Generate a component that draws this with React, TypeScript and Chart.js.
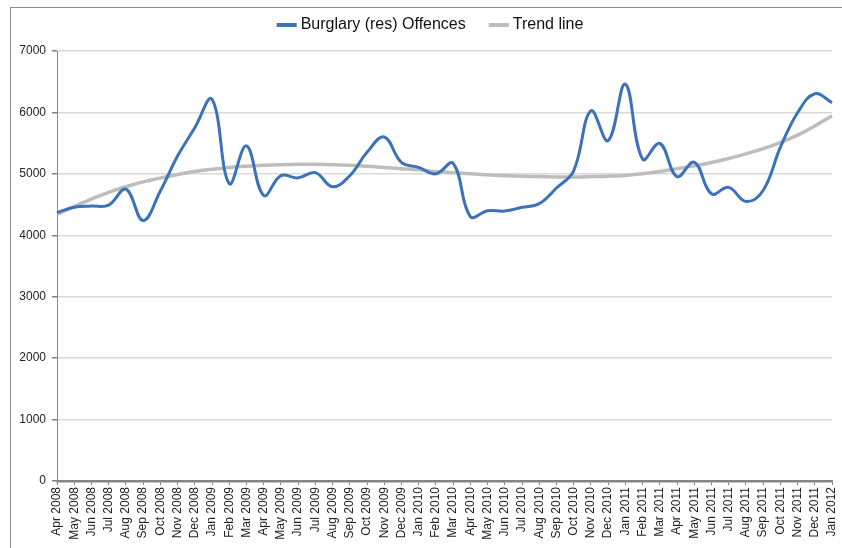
import React, { useEffect, useRef } from "react";
import { Chart, registerables } from "chart.js";

Chart.register(...registerables);

const months: string[] = [
  "Apr 2008", "May 2008", "Jun 2008", "Jul 2008", "Aug 2008", "Sep 2008", "Oct 2008", "Nov 2008", "Dec 2008",
  "Jan 2009", "Feb 2009", "Mar 2009", "Apr 2009", "May 2009", "Jun 2009", "Jul 2009", "Aug 2009", "Sep 2009",
  "Oct 2009", "Nov 2009", "Dec 2009", "Jan 2010", "Feb 2010", "Mar 2010", "Apr 2010", "May 2010", "Jun 2010",
  "Jul 2010", "Aug 2010", "Sep 2010", "Oct 2010", "Nov 2010", "Dec 2010", "Jan 2011", "Feb 2011", "Mar 2011",
  "Apr 2011", "May 2011", "Jun 2011", "Jul 2011", "Aug 2011", "Sep 2011", "Oct 2011", "Nov 2011", "Dec 2011",
  "Jan 2012",
];

// Monthly residential burglary offences
const offences: number[] = [
  4370, 4455, 4475, 4490, 4750, 4240, 4720, 5290, 5750, 6215,
  4840, 5455, 4650, 4970, 4935, 5020, 4790, 4970, 5350, 5600,
  5185, 5105, 5000, 5170, 4305, 4400, 4395, 4455, 4515, 4770,
  5050, 6025, 5540, 6460, 5240, 5495, 4955, 5190, 4675, 4780,
  4550, 4730, 5430, 5995, 6305, 6160,
];

// Fitted trend
const trend: number[] = [
  4340, 4470, 4590, 4700, 4790, 4870, 4930, 4990, 5040, 5075,
  5105, 5125, 5140, 5150, 5155, 5155, 5150, 5140, 5125, 5105,
  5085, 5065, 5040, 5020, 5000, 4985, 4970, 4960, 4955, 4950,
  4950, 4955, 4962, 4975, 5000, 5040, 5085, 5130, 5185, 5250,
  5325, 5410, 5510, 5630, 5780, 5945,
];

const yTicks: number[] = [0, 1000, 2000, 3000, 4000, 5000, 6000, 7000];

const FONT = "Arial, 'Liberation Sans', sans-serif";

// Legend drawn across the top of the canvas: a short thick line per series, then its name
const topLegend = {
  id: "topLegend",
  afterDraw(chart: any) {
    const ctx = chart.ctx as CanvasRenderingContext2D;
    const sets = chart.data.datasets;
    const sample = 20;
    const gapText = 4;
    const gapItem = 23;
    const cy = 25;
    ctx.save();
    ctx.font = `16px ${FONT}`;
    const widths = sets.map((d: any) => ctx.measureText(d.label).width);
    let total = 0;
    widths.forEach((w: number, i: number) => {
      total += sample + gapText + w + (i < widths.length - 1 ? gapItem : 0);
    });
    let x = 430 - total / 2;
    sets.forEach((d: any, i: number) => {
      ctx.strokeStyle = d.borderColor;
      ctx.lineWidth = 4;
      ctx.lineCap = "butt";
      ctx.beginPath();
      ctx.moveTo(x, cy);
      ctx.lineTo(x + sample, cy);
      ctx.stroke();
      x += sample + gapText;
      ctx.fillStyle = "#111";
      ctx.textBaseline = "middle";
      ctx.textAlign = "left";
      ctx.fillText(d.label, x, cy);
      x += widths[i] + gapItem;
    });
    ctx.restore();
  },
};

export default function App() {
  const canvasRef = useRef<HTMLCanvasElement | null>(null);

  useEffect(() => {
    const canvas = canvasRef.current;
    if (!canvas) return;
    const chart = new Chart(canvas, {
      type: "line",
      data: {
        labels: months,
        datasets: [
          {
            label: "Burglary (res) Offences",
            data: offences,
            borderColor: "#3c72b7",
            backgroundColor: "#3c72b7",
            borderWidth: 3,
            pointRadius: 0,
            tension: 0.4,
            fill: false,
          },
          {
            label: "Trend line",
            data: trend,
            borderColor: "#bdbdbd",
            backgroundColor: "#bdbdbd",
            borderWidth: 3.5,
            pointRadius: 0,
            tension: 0.4,
            fill: false,
          },
        ],
      },
      plugins: [topLegend],
      options: {
        animation: false,
        responsive: false,
        devicePixelRatio: 1,
        layout: { padding: { top: 51, left: 0, right: 10, bottom: 0 } },
        plugins: {
          tooltip: { enabled: false },
          legend: { display: false },
        },
        scales: {
          x: {
            offset: false,
            grid: {
              display: true,
              drawOnChartArea: false,
              drawTicks: true,
              tickLength: 4,
              tickColor: "#7f7f7f",
            },
            border: { display: true, color: "#858585", width: 2.5 },
            ticks: {
              autoSkip: false,
              minRotation: 90,
              maxRotation: 90,
              padding: 2,
              color: "#222",
              font: { family: FONT, size: 12 },
            },
            afterFit: (scale: any) => {
              scale.height = 67;
              scale.paddingRight = 0;
            },
          },
          y: {
            min: 0,
            max: 7000,
            afterBuildTicks: (scale: any) => {
              scale.ticks = yTicks.map((v) => ({ value: v }));
            },
            grid: {
              color: "#d9d9d9",
              lineWidth: 1.5,
              drawTicks: true,
              tickLength: 5,
              tickColor: "#7f7f7f",
            },
            border: { display: true, color: "#8a8a8a", width: 1 },
            ticks: {
              padding: 6,
              color: "#222",
              font: { family: FONT, size: 12 },
              callback: (v: any) => String(v),
            },
            afterFit: (scale: any) => {
              scale.width = 57;
            },
          },
        },
      },
    });
    return () => chart.destroy();
  }, []);

  return (
    <div style={{ position: "fixed", left: 0, top: 0, width: 842, height: 548, background: "#fff", overflow: "hidden" }}>
      <div
        style={{
          position: "absolute",
          left: 10,
          top: 7,
          width: 860,
          height: 560,
          borderLeft: "1px solid #8c8c8c",
          borderTop: "1px solid #8c8c8c",
        }}
      />
      <canvas ref={canvasRef} width={842} height={548} style={{ position: "absolute", left: 0, top: 0 }} />
    </div>
  );
}
